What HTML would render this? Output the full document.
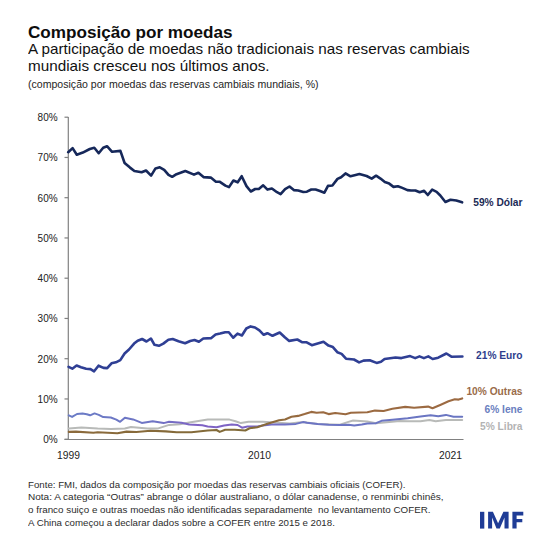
<!DOCTYPE html>
<html><head><meta charset="utf-8">
<style>
html,body{margin:0;padding:0;background:#fff;}
body{width:550px;height:550px;position:relative;overflow:hidden;font-family:"Liberation Sans",sans-serif;}
.t{position:absolute;white-space:nowrap;transform-origin:0 0;line-height:1;}
.yl{position:absolute;right:492.4px;font-size:10px;line-height:12px;color:#222;white-space:nowrap;}
.xl{position:absolute;font-size:10px;line-height:12px;color:#222;transform-origin:0 0;transform:scaleX(1.03);white-space:nowrap;}
.lab{position:absolute;right:27.5px;font-weight:bold;font-size:10.2px;line-height:12px;white-space:nowrap;}
svg{position:absolute;left:0;top:0;}
</style></head><body>
<div class="t" id="title" style="left:28px;top:23.84px;font-size:17.2px;font-weight:bold;color:#0d0d0d;transform:scaleX(0.9962);white-space:pre;">Composição por moedas</div>
<div class="t" id="sub1" style="left:27.5px;top:42.43px;font-size:14.5px;color:#111;transform:scaleX(1.0498);white-space:pre;">A participação de moedas não tradicionais nas reservas cambiais</div>
<div class="t" id="sub2" style="left:27.5px;top:59.33px;font-size:14.5px;color:#111;transform:scaleX(1.0518);white-space:pre;">mundiais cresceu nos últimos anos.</div>
<div class="t" id="sub3" style="left:27.8px;top:78.76px;font-size:10.8px;color:#1e1e1e;transform:scaleX(0.9784);white-space:pre;">(composição por moedas das reservas cambiais mundiais, %)</div>
<svg width="550" height="550" viewBox="0 0 550 550">
<g stroke="#808080" stroke-width="1.2" fill="none">
<line x1="68.3" y1="117" x2="68.3" y2="439.5"/>
<line x1="64.5" y1="439.5" x2="463.5" y2="439.5"/>
<line x1="64.5" y1="439.20" x2="68.3" y2="439.20"/><line x1="64.5" y1="398.95" x2="68.3" y2="398.95"/><line x1="64.5" y1="358.70" x2="68.3" y2="358.70"/><line x1="64.5" y1="318.45" x2="68.3" y2="318.45"/><line x1="64.5" y1="278.20" x2="68.3" y2="278.20"/><line x1="64.5" y1="237.95" x2="68.3" y2="237.95"/><line x1="64.5" y1="197.70" x2="68.3" y2="197.70"/><line x1="64.5" y1="157.45" x2="68.3" y2="157.45"/><line x1="64.5" y1="117.20" x2="68.3" y2="117.20"/>
</g>
<defs>
<linearGradient id="gy" gradientUnits="userSpaceOnUse" x1="68" y1="0" x2="462" y2="0">
<stop offset="0" stop-color="#6a7cc6"/><stop offset="0.22" stop-color="#6f74c4"/><stop offset="0.33" stop-color="#7f62c4"/><stop offset="0.45" stop-color="#7c64c4"/><stop offset="0.58" stop-color="#6c74c4"/><stop offset="1" stop-color="#6a76c2"/>
</linearGradient>
<linearGradient id="go" gradientUnits="userSpaceOnUse" x1="68" y1="0" x2="462" y2="0">
<stop offset="0" stop-color="#8c6a3c"/><stop offset="0.45" stop-color="#806a38"/><stop offset="0.6" stop-color="#9a6a40"/><stop offset="1" stop-color="#9c6a42"/>
</linearGradient>
</defs>
<g fill="none" stroke-linejoin="round" stroke-linecap="round">
<polyline stroke="#b8bab8" stroke-width="2.0" points="68.8,428.4 81.4,427.6 97.7,428.6 110.8,428.9 124.8,428.4 130.9,427.1 147.3,428.6 158.2,428.4 169.1,424.9 179.8,424.2 189.2,422.4 207.7,419.6 218.6,419.4 229.5,419.6 235.5,421.2 240.9,423.1 248.5,421.7 262.7,421.7 289.8,423.4 303,422.1 317.7,423.9 340,424.8 347.6,422.1 353.1,420.5 367.3,421.5 376,423.2 399.8,421 407.7,421.3 420.5,421.3 429.4,420 435.7,421.3 445.9,420 462.2,420"/>
<polyline stroke="url(#gy)" stroke-width="2.0" points="68.8,415.3 72.1,416.9 77,414 82.5,413.6 86.8,414.2 90.1,415.3 94.5,413.4 98.8,414.9 103.2,417.1 110.8,417.5 116.3,419.6 120.1,421.8 124.9,417.7 133.1,419.4 141.8,422.9 152.7,421.3 163.6,423.1 169.1,421.8 181.5,422.7 189.2,424.5 202.3,425.3 207.7,426.5 216.5,427.3 224.1,425.6 231.7,424.5 237.6,425 242,427.7 247.5,426.6 257.3,426.4 262.7,425.5 271.5,424.5 285,424.5 295.9,423.9 303,422.1 306.8,422.8 317.7,423.9 328.6,424.7 339.5,425 348.7,424.8 354.2,425.6 361.8,424.5 367.3,423.4 376,423.2 381.5,420.8 392.4,419.7 407.7,418.3 420.5,416.6 430.6,415.3 438.3,416.2 445.9,414.9 453.5,416.8 462.2,416.8"/>
<polyline stroke="url(#go)" stroke-width="2.1" points="68.8,431.9 75.9,431.6 93.4,432.7 97.7,432.2 117.4,433.3 126.5,431.6 136.4,432 150.5,430.8 165.8,431.4 176.7,432.2 191.4,432.2 207.7,430.5 216.5,430 219.7,431.9 225.2,429.7 234.8,429.7 245.3,430.5 249.6,428.3 257.3,427.2 268.2,423.6 279.1,420.3 285,419.5 291.5,416.8 298.1,415.9 304.6,414.1 311.2,411.9 316.6,412.8 323.2,412.2 328.6,414.1 335.2,413 345.5,414.2 350.9,412.8 367.3,412.3 374.9,410.6 383.6,411 392.4,408.8 405.2,406.9 414.1,407.7 428.1,406.6 432.5,408.3 440.8,404.7 448.5,401.3 454.8,399.3 458.6,399.6 462.2,398.4"/>
<polyline stroke="#2f3f94" stroke-width="2.6" points="68.6,366.9 72.3,368.7 76.6,365.5 81,367.2 86.1,368.8 90.5,369.1 94.1,371.3 98.5,365.7 103.5,367.9 107.2,368.1 111.5,363.3 115.9,362.3 120.3,360.1 124.6,353.5 129,349.5 134.1,343.6 137.7,340.7 142.1,339 146.5,341.5 150.9,338.5 154.5,344.8 158.9,345.8 163.3,343.6 168.4,339.7 172.7,339 178.5,341.2 185.1,343.2 190.2,341 194.5,340 198.9,341.7 203.3,338.5 211.3,338.1 215.6,334.6 220.1,333.6 225.2,332.2 228.8,332.2 233.2,337.7 237.5,333.6 241.9,335.5 246.3,328.5 250.6,326.4 255,327.5 259.4,330.4 263.7,334.8 267.4,333.2 272.5,335.8 279.7,332.5 284.8,337.3 289.2,340.9 297.3,339.5 302.4,342.3 306.7,342.3 311.8,345.2 323.5,341.7 328.5,345.6 332.9,347.1 337.3,352.2 341.6,353.9 346,358.7 354,359.5 359.1,362.4 363.5,360.6 369.7,360.2 376.6,362.9 381,361.7 384.6,359 395.5,357.5 401.4,358.1 410.1,356.1 415.2,358.1 419.5,356.4 423.9,358.1 428.3,356.4 432.6,359 438.2,357.7 446.4,353.5 451.8,356.8 462.4,356.5"/>
<polyline stroke="#16285a" stroke-width="2.6" points="68.2,152.2 72.6,148.1 76.8,154.7 82.8,152.6 89.8,149.0 94.3,147.7 98.7,153.2 103.2,147.7 107,146.2 112.1,151.8 120.4,150.9 124.6,163 130,167.6 134.4,171 141.6,172.3 146,170.5 151.1,175.6 155.5,168.4 159.8,167.3 164.2,169.8 168.5,174.9 172.2,176.8 176.5,174.2 185.3,171 194,174.6 198.4,172.7 203.5,177.1 210.8,177.6 215.9,181.7 219.5,181.7 225.4,185.6 229,187.1 233.4,180.5 237.7,182.3 241.7,176.2 246.5,186.1 250.8,191.5 255.2,189 258.8,189 263.2,185.3 267.5,189.6 271.9,188.5 277,192.2 280.6,194.1 285.1,189.1 289.5,186.5 293.8,190.1 298.2,190.5 303.3,192 306.9,191.7 311.3,189.5 315.6,189.5 320,191 324.4,192.7 328,185.9 332.4,185.5 337.5,178.9 341.1,177.2 345.5,173.4 350.5,176.3 355.6,175 359.4,174.1 366.6,176 371.7,178.6 376.1,175.7 380.5,178.6 384.8,182.1 389.2,183.6 393.5,186.9 397.9,186.2 402.3,187.9 407.4,190.1 411,190.5 415.4,190.5 419.7,192.3 424.1,190.8 427.8,195 432.2,189.7 436.6,191.8 440.3,195.5 445.4,202 450.5,199.8 456.3,200.5 462.1,202.3"/>
</g>
<g fill="#1f3c96">
<rect x="480" y="511.8" width="4.3" height="16.8"/>
<polygon points="488.1,511.8 492.9,511.8 498.1,523.3 503.4,511.8 508.6,511.8 508.6,528.6 504.5,528.6 504.5,517.5 499.8,528.6 496.5,528.6 492.1,517.5 492.1,528.6 488.1,528.6"/>
<polygon points="512.4,511.8 523.3,511.8 523.3,515.4 516.6,515.4 516.6,518.9 522.3,518.9 522.3,522.3 516.6,522.3 516.6,528.6 512.4,528.6"/>
</g>
</svg>
<div class="yl" style="top:434.00px">0%</div><div class="yl" style="top:393.75px">10%</div><div class="yl" style="top:353.50px">20%</div><div class="yl" style="top:313.25px">30%</div><div class="yl" style="top:273.00px">40%</div><div class="yl" style="top:232.75px">50%</div><div class="yl" style="top:192.50px">60%</div><div class="yl" style="top:152.25px">70%</div><div class="yl" style="top:112.00px">80%</div>
<div class="xl" style="left:57px;top:450px;">1999</div>
<div class="xl" style="left:248px;top:450px;">2010</div>
<div class="xl" style="left:438.5px;top:450px;">2021</div>

<div class="lab" style="top:197px;color:#1b2a55;">59% Dólar</div>
<div class="lab" style="top:350px;color:#2e3d8c;">21% Euro</div>
<div class="lab" style="top:385.7px;color:#9a6c4a;">10% Outras</div>
<div class="lab" style="top:404.1px;color:#6a7ec0;">6% Iene</div>
<div class="lab" style="top:421.4px;color:#b3b3b3;">5% Libra</div>

<div class="t" id="f1" style="left:27.6px;top:479.74px;font-size:9.4px;color:#2c2c2c;transform:scaleX(1.0333);white-space:pre;">Fonte: FMI, dados da composição por moedas das reservas cambiais oficiais (COFER).</div>
<div class="t" id="f2" style="left:27.6px;top:492.44px;font-size:9.4px;color:#2c2c2c;transform:scaleX(1.0690);white-space:pre;">Nota: A categoria “Outras” abrange o dólar australiano, o dólar canadense, o renminbi chinês,</div>
<div class="t" id="f3" style="left:27.6px;top:505.14px;font-size:9.4px;color:#2c2c2c;transform:scaleX(1.0480);white-space:pre;">o franco suiço e outras moedas não identificadas separadamente  no levantamento COFER.</div>
<div class="t" id="f4" style="left:27.6px;top:517.64px;font-size:9.4px;color:#2c2c2c;transform:scaleX(1.0348);white-space:pre;">A China começou a declarar dados sobre a COFER entre 2015 e 2018.</div>
</body></html>
